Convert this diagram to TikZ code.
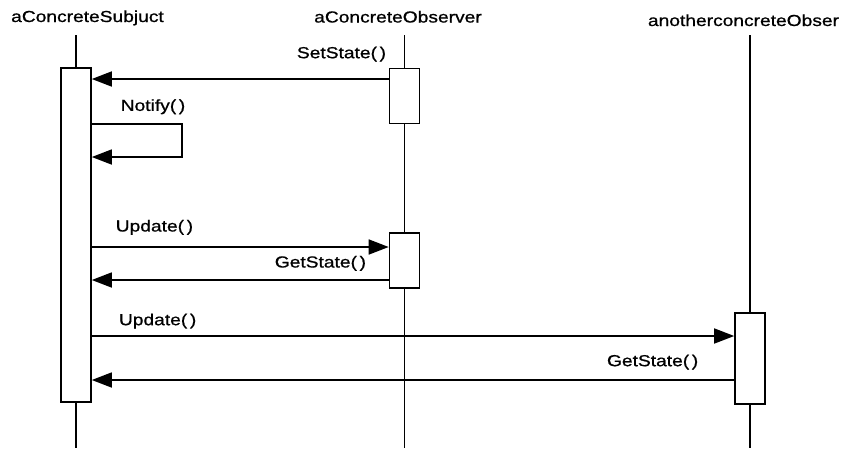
\documentclass[tikz,border=0pt]{standalone}
\usepackage{fontspec}
\setmainfont{Liberation Sans}[FakeStretch=1.2,FakeBold=0.8]
\usepackage{tikz}
\usetikzlibrary{positioning,calc,arrows.meta}
\newcommand{\onode}[3]{\node [head] (#1) at (#2) {#3}}

\begin{document}
\begin{tikzpicture}[x=1pt,y=-1pt,line width=1.6pt,
  font=\fontsize{16}{18}\selectfont,
  head/.style={anchor=base,inner sep=0pt},
  act/.style={draw,fill=white,minimum width=30pt,inner sep=0pt},
  lbl/.style={inner sep=0pt},
  msg/.style={-{Triangle[length=20pt,width=15pt]}}]
\useasboundingbox (0,0) rectangle (841,448);

\onode{SUBJ}{87.5,22}{aConcreteSubjuct};
\onode{OBS}{398,22.5}{aConcreteObserver};
\onode{OBS2}{743.5,26}{anotherconcreteObser};

% lifelines
\coordinate (S0) at (76,35);  \coordinate (S1) at (76,448);
\coordinate (O0) at (404.5,35); \coordinate (O1) at (404.5,448);
\coordinate (P0) at (750,35); \coordinate (P1) at (750,448);
\draw (S0) -- (S1);
\draw (O0) -- (O1);
\draw (P0) -- (P1);

% activations
\node [act,minimum height=334pt] (SA) at (76,235) {};
\node [act,minimum height=55pt] (OA1) at (404.5,96) {};
\node [act,minimum height=55pt] (OA2) at (404.5,260.5) {};
\node [act,minimum height=91pt] (PA) at (750,358.5) {};

\draw[msg] (OA1.west |- 0,79) -- (SA.east |- 0,79) node [lbl,pos=0.159,above=16.7pt] {SetState(\,)};
\draw[msg] (SA.east |- 0,124) -- ++(90,0) node [lbl,pos=0.68,above=9pt] {Notify(\,)} |- (SA.east |- 0,157);
\draw[msg] (SA.east |- 0,247) -- (OA2.west |- 0,247) node [lbl,pos=0.211,above=11.4pt] {Update(\,)};
\draw[msg] (OA2.west |- 0,280) -- (SA.east |- 0,280) node [lbl,pos=0.23,above=8.4pt] {GetState(\,)};
\draw[msg] (SA.east |- 0,336) -- (PA.west |- 0,336) node [lbl,pos=0.1025,above=6.7pt] {Update(\,)};
\draw[msg] (PA.west |- 0,380) -- (SA.east |- 0,380) node [lbl,pos=0.127,above=9.7pt] {GetState(\,)};

\end{tikzpicture}
\end{document}
